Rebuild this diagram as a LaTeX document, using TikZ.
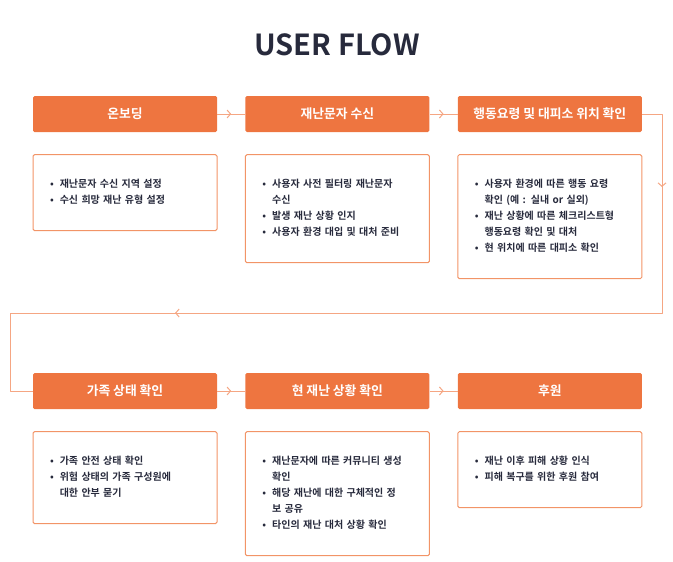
\documentclass[tikz,border=0pt]{standalone}
\usepackage{fontspec}
\setmainfont{Noto Sans CJK KR}[BoldFont={Noto Sans CJK KR Bold}]
\newfontfamily\medium{Noto Sans CJK KR Bold}
\usetikzlibrary{positioning,arrows.meta,decorations.markings}
\definecolor{flame}{HTML}{EE7540}
\definecolor{peach}{HTML}{F29467}
\definecolor{wire}{HTML}{F5A683}
\definecolor{ink}{HTML}{272A3C}
\newcommand{\bul}{\textbullet}
\begin{document}
\begin{tikzpicture}[x=1pt,y=1pt,line join=round,
    head/.style={fill=flame,rounded corners=1.5pt,minimum width=184pt,minimum height=36pt,
      inner sep=0pt,text=white,font=\bfseries\fontsize{12.8}{15}\selectfont},
    card/.style={draw=peach,line width=1pt,rounded corners=1.5pt,anchor=north,
      text width=150pt,inner xsep=17pt,inner ysep=22pt,align=left,text=ink,
      font=\medium\fontsize{10}{16}\selectfont},
    wire/.style={draw=wire,line width=1pt},
    chev/.style={postaction={decorate},decoration={markings,
      mark=at position .5 with {\arrow{Straight Barb[length=3.5pt,width=8pt,line width=1pt]}}}}]
  \useasboundingbox (0,0) rectangle (673,-562);
  \node[text=ink,font=\bfseries\fontsize{29}{34}\selectfont] (title) at (337,-45) {USER FLOW};
  % first row
  \node[head] (h1) at (125,-114) {온보딩};
  \node[head,right=28pt of h1] (h2) {재난문자 수신};
  \node[head,right=28pt of h2] (h3) {행동요령 및 대피소 위치 확인};
  \node[card,below=22pt of h1] (c1) {\noindent\begin{tabular}{@{}l@{\hspace{6pt}}l@{}}
    \bul & 재난문자 수신 지역 설정\\
    \bul & 수신 희망 재난 유형 설정
  \end{tabular}};
  \node[card,below=22pt of h2] (c2) {\noindent\begin{tabular}{@{}l@{\hspace{6pt}}l@{}}
    \bul & 사용자 사전 필터링 재난문자\\
        & 수신\\
    \bul & 발생 재난 상황 인지\\
    \bul & 사용자 환경 대입 및 대처 준비
  \end{tabular}};
  \node[card,below=22pt of h3] (c3) {\noindent\begin{tabular}{@{}l@{\hspace{6pt}}l@{}}
    \bul & 사용자 환경에 따른 행동 요령\\
        & 확인 (예 : 실내 or 실외)\\
    \bul & 재난 상황에 따른 체크리스트형\\
        & 행동요령 확인 및 대처\\
    \bul & 현 위치에 따른 대피소 확인
  \end{tabular}};
  % second row
  \node[head] (h4) at (125,-391) {가족 상태 확인};
  \node[head,right=28pt of h4] (h5) {현 재난 상황 확인};
  \node[head,right=28pt of h5] (h6) {후원};
  \node[card,below=22pt of h4] (c4) {\noindent\begin{tabular}{@{}l@{\hspace{6pt}}l@{}}
    \bul & 가족 안전 상태 확인\\
    \bul & 위험 상태의 가족 구성원에\\
        & 대한 안부 묻기
  \end{tabular}};
  \node[card,below=22pt of h5] (c5) {\noindent\begin{tabular}{@{}l@{\hspace{6pt}}l@{}}
    \bul & 재난문자에 따른 커뮤니티 생성\\
        & 확인\\
    \bul & 해당 재난에 대한 구체적인 정\\
        & 보 공유\\
    \bul & 타인의 재난 대처 상황 확인
  \end{tabular}};
  \node[card,below=22pt of h6] (c6) {\noindent\begin{tabular}{@{}l@{\hspace{6pt}}l@{}}
    \bul & 재난 이후 피해 상황 인식\\
    \bul & 피해 복구를 위한 후원 참여
  \end{tabular}};
  % connectors
  \draw[wire,chev] (h1) -- (h2);
  \draw[wire,chev] (h2) -- (h3);
  \draw[wire,chev] (h4) -- (h5);
  \draw[wire,chev] (h5) -- (h6);
  \coordinate (turnR) at (662,-313);
  \coordinate (turnL) at (10,-313);
  \draw[wire,postaction={decorate},decoration={markings,
      mark=at position 93pt with {\arrow{Straight Barb[length=3.5pt,width=8pt,line width=1pt]}},
      mark=at position 706pt with {\arrow{Straight Barb[length=3.5pt,width=8pt,line width=1pt]}}}]
    (h3.east) -| (turnR) -- (turnL) |- (h4.west);
\end{tikzpicture}
\end{document}
